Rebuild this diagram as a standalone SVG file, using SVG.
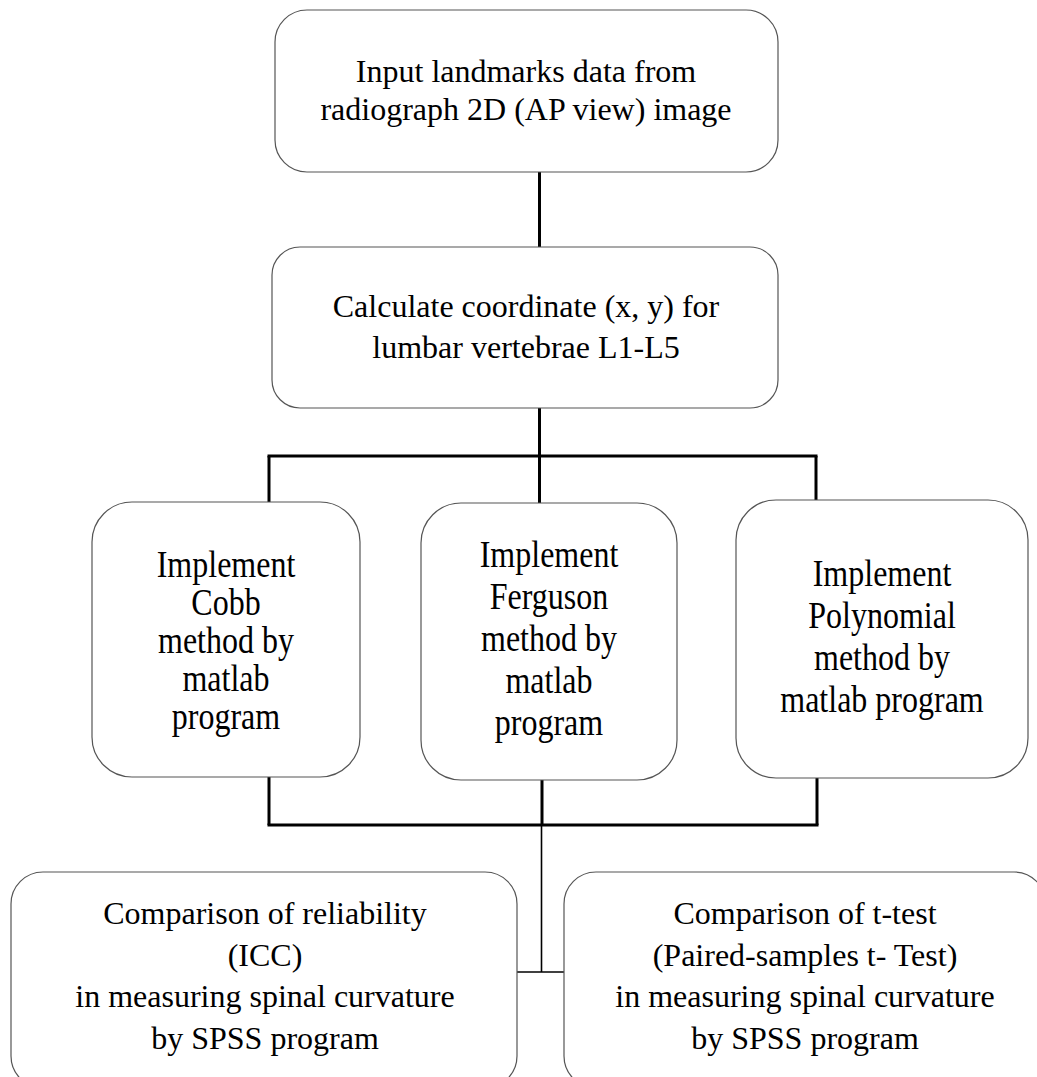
<svg xmlns="http://www.w3.org/2000/svg" width="1037" height="1077" viewBox="0 0 1037 1077">
<style>
.box{fill:#fff;stroke:#555;stroke-width:1.2}
.t{font-family:"Liberation Serif","Times New Roman",serif;font-size:32px;fill:#000;text-anchor:middle}
.tc{font-family:"Liberation Serif","Times New Roman",serif;font-size:37px;fill:#000;text-anchor:middle}
.thick{stroke:#000;stroke-width:3;fill:none}
.thin{stroke:#000;stroke-width:1.6;fill:none}
</style>
<rect width="1037" height="1077" fill="#fff"/>
<g id="connectors">
<line class="thick" x1="539.5" y1="172" x2="539.5" y2="247"/>
<line class="thick" x1="539.5" y1="408" x2="539.5" y2="456"/>
<line class="thick" x1="267.5" y1="456" x2="817.5" y2="456"/>
<line class="thick" x1="269" y1="456" x2="269" y2="502"/>
<line class="thick" x1="539.5" y1="456" x2="539.5" y2="503"/>
<line class="thick" x1="816" y1="456" x2="816" y2="500"/>
<line class="thick" x1="269" y1="777" x2="269" y2="825"/>
<line class="thick" x1="542" y1="780" x2="542" y2="825"/>
<line class="thick" x1="817" y1="778" x2="817" y2="825"/>
<line class="thick" x1="267.5" y1="825" x2="818.5" y2="825"/>
<line class="thin" x1="541.5" y1="826" x2="541.5" y2="972"/>
<line class="thin" x1="517" y1="972" x2="564" y2="972"/>
</g>
<g id="n1">
<rect class="box" x="275" y="10" width="503" height="162" rx="32" ry="32"/>
<text class="t" x="526" y="82">Input landmarks data from</text>
<text class="t" x="526" y="120">radiograph 2D (AP view) image</text>
</g>
<g id="n2">
<rect class="box" x="272" y="247" width="506" height="161" rx="28" ry="28"/>
<text class="t" x="526" y="317">Calculate coordinate (x, y) for</text>
<text class="t" x="526" y="358">lumbar vertebrae L1-L5</text>
</g>
<g id="n3">
<rect class="box" x="92" y="502" width="268" height="275" rx="40" ry="40"/>
<g transform="translate(226,0) scale(0.865,1)">
<text class="tc" x="0" y="577">Implement</text>
<text class="tc" x="0" y="615">Cobb</text>
<text class="tc" x="0" y="653">method by</text>
<text class="tc" x="0" y="691">matlab</text>
<text class="tc" x="0" y="729">program</text>
</g>
</g>
<g id="n4">
<rect class="box" x="421" y="503" width="256" height="277" rx="40" ry="40"/>
<g transform="translate(549,0) scale(0.865,1)">
<text class="tc" x="0" y="567">Implement</text>
<text class="tc" x="0" y="609">Ferguson</text>
<text class="tc" x="0" y="651">method by</text>
<text class="tc" x="0" y="693">matlab</text>
<text class="tc" x="0" y="735">program</text>
</g>
</g>
<g id="n5">
<rect class="box" x="736" y="500" width="292" height="278" rx="40" ry="40"/>
<g transform="translate(882,0) scale(0.865,1)">
<text class="tc" x="0" y="586">Implement</text>
<text class="tc" x="0" y="628">Polynomial</text>
<text class="tc" x="0" y="670">method by</text>
<text class="tc" x="0" y="712">matlab program</text>
</g>
</g>
<g id="n6">
<rect class="box" x="11" y="872" width="506" height="216" rx="32" ry="32"/>
<text class="t" x="265" y="924">Comparison of reliability</text>
<text class="t" x="265" y="966">(ICC)</text>
<text class="t" x="265" y="1007">in measuring spinal curvature</text>
<text class="t" x="265" y="1049">by SPSS program</text>
</g>
<g id="n7">
<rect class="box" x="564" y="872" width="482" height="216" rx="32" ry="32"/>
<text class="t" x="805" y="924">Comparison of t-test</text>
<text class="t" x="805" y="966">(Paired-samples t- Test)</text>
<text class="t" x="805" y="1007">in measuring spinal curvature</text>
<text class="t" x="805" y="1049">by SPSS program</text>
</g>
</svg>
